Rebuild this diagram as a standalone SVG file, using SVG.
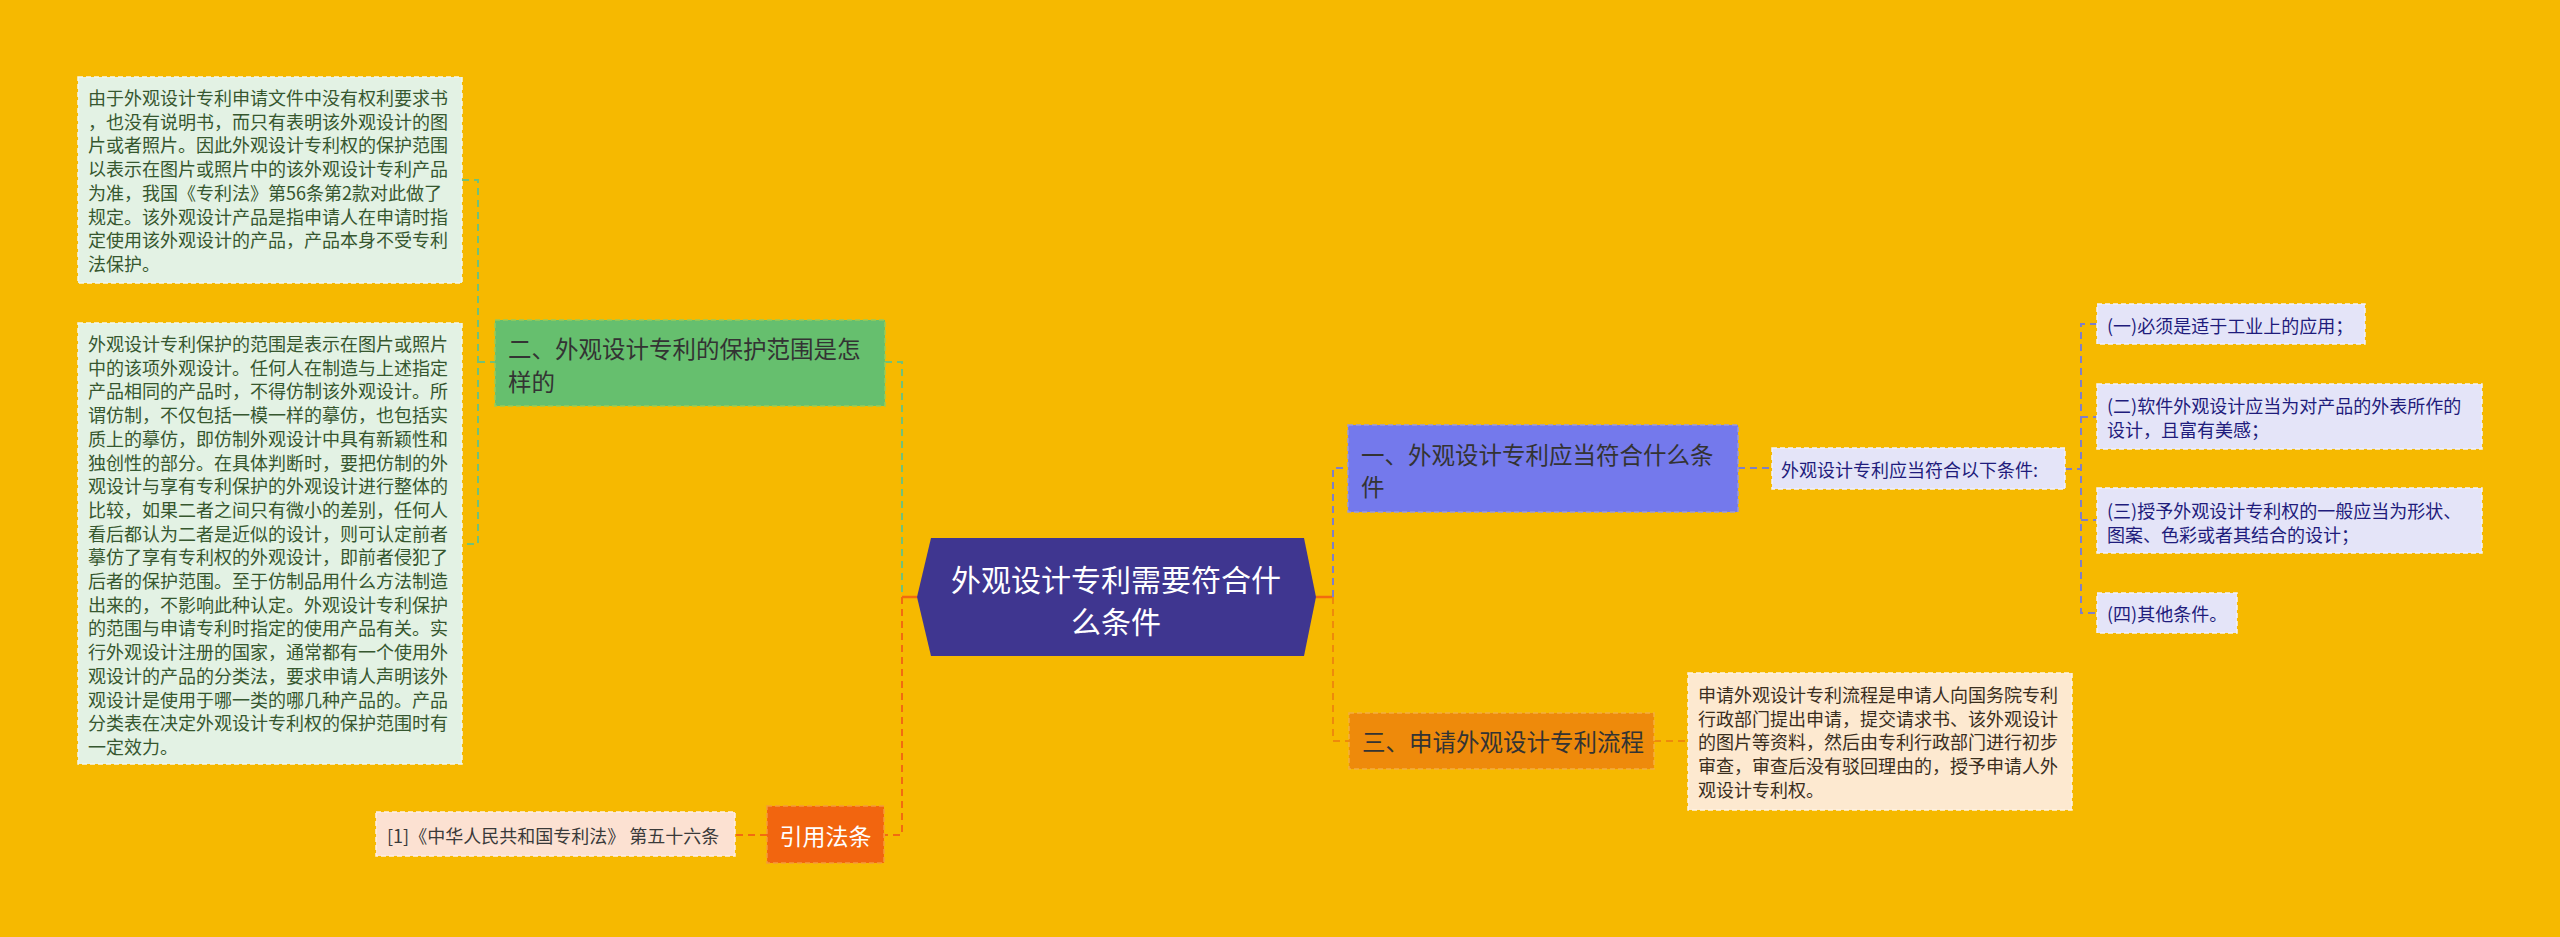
<svg xmlns="http://www.w3.org/2000/svg" width="2560" height="937" viewBox="0 0 2560 937">
<style>
text{font-family:"Noto Sans CJK SC","Noto Sans",sans-serif;dominant-baseline:central}
.lf{font-size:18px}
.sec{font-size:23.5px;fill:#333333}
.dash{fill:none;stroke-width:2;stroke-dasharray:7 5}
.g{stroke:#72C178}
.o{stroke:#F26B10}
.o2{stroke:#EE8A0B}
.p{stroke:#7F7FC9}
.bd{stroke-width:1.5;stroke-dasharray:5 3}
</style>
<rect width="2560" height="937" fill="#F6B900"/>
<g id="connectors">
<path class="dash g" d="M462 180H478V544H462M478 362H495"/>
<path class="dash g" d="M885 362H902V597"/>
<path class="dash o" d="M902 597V835H885M767 835H735"/>
<path d="M902 597H917" stroke="#F26B10" stroke-width="2.5"/>
<path d="M1316 597H1333" stroke="#F26B10" stroke-width="2.5"/>
<path class="dash p" d="M1333 597V468H1348M1738 468H1772"/>
<path class="dash o2" d="M1333 597V741H1349M1654 741H1688"/>
<path class="dash p" d="M2065 469H2081M2097 324H2081V613H2097M2081 417H2097M2081 520H2097"/>
</g>
<g id="central">
<polygon points="931,538 1304,538 1316,597 1304,656 931,656 917,597" fill="#3F3690"/>
<text x="1116" y="578" font-size="30" fill="#FFFFFF" text-anchor="middle">外观设计专利需要符合什</text>
<text x="1116" y="620" font-size="30" fill="#FFFFFF" text-anchor="middle">么条件</text>
</g>
<g id="leaf-left-1">
<rect x="78" y="77" width="384" height="206" fill="#E3F2E4" stroke="#F3F8EE" class="bd"/>
<g class="lf" fill="#36572F">
<text x="88" y="97">由于外观设计专利申请文件中没有权利要求书</text>
<text x="88" y="120.7">，也没有说明书，而只有表明该外观设计的图</text>
<text x="88" y="144.4">片或者照片。因此外观设计专利权的保护范围</text>
<text x="88" y="168.1">以表示在图片或照片中的该外观设计专利产品</text>
<text x="88" y="191.8">为准，我国《专利法》第56条第2款对此做了</text>
<text x="88" y="215.5">规定。该外观设计产品是指申请人在申请时指</text>
<text x="88" y="239.2">定使用该外观设计的产品，产品本身不受专利</text>
<text x="88" y="262.9">法保护。</text>
</g>
</g>
<g id="leaf-left-2">
<rect x="78" y="323" width="384" height="441" fill="#E3F2E4" stroke="#F3F8EE" class="bd"/>
<g class="lf" fill="#36572F">
<text x="88" y="343">外观设计专利保护的范围是表示在图片或照片</text>
<text x="88" y="366.7">中的该项外观设计。任何人在制造与上述指定</text>
<text x="88" y="390.4">产品相同的产品时，不得仿制该外观设计。所</text>
<text x="88" y="414.1">谓仿制，不仅包括一模一样的摹仿，也包括实</text>
<text x="88" y="437.8">质上的摹仿，即仿制外观设计中具有新颖性和</text>
<text x="88" y="461.5">独创性的部分。在具体判断时，要把仿制的外</text>
<text x="88" y="485.2">观设计与享有专利保护的外观设计进行整体的</text>
<text x="88" y="508.9">比较，如果二者之间只有微小的差别，任何人</text>
<text x="88" y="532.6">看后都认为二者是近似的设计，则可认定前者</text>
<text x="88" y="556.3">摹仿了享有专利权的外观设计，即前者侵犯了</text>
<text x="88" y="580">后者的保护范围。至于仿制品用什么方法制造</text>
<text x="88" y="603.7">出来的，不影响此种认定。外观设计专利保护</text>
<text x="88" y="627.4">的范围与申请专利时指定的使用产品有关。实</text>
<text x="88" y="651.1">行外观设计注册的国家，通常都有一个使用外</text>
<text x="88" y="674.8">观设计的产品的分类法，要求申请人声明该外</text>
<text x="88" y="698.5">观设计是使用于哪一类的哪几种产品的。产品</text>
<text x="88" y="722.2">分类表在决定外观设计专利权的保护范围时有</text>
<text x="88" y="745.9">一定效力。</text>
</g>
</g>
<g id="node-2">
<rect x="495" y="320" width="390" height="86" fill="#66BF6E" stroke="#9ACB55" class="bd"/>
<text class="sec" x="508" y="348">二、外观设计专利的保护范围是怎</text>
<text class="sec" x="508" y="381">样的</text>
</g>
<g id="node-cite">
<rect x="767" y="806" width="117" height="57" fill="#F2650F" stroke="#F59A3A" class="bd"/>
<text x="825.5" y="835" font-size="23" fill="#FFFFFF" text-anchor="middle">引用法条</text>
</g>
<g id="leaf-cite">
<rect x="376" y="812" width="359" height="44" fill="#FCE1D2" stroke="#FEF0E6" class="bd"/>
<text class="lf" x="387" y="835" fill="#3A3A3A">[1]《中华人民共和国专利法》 第五十六条</text>
</g>
<g id="node-1">
<rect x="1348" y="425" width="390" height="87" fill="#7479EC" stroke="#9A9ADA" class="bd"/>
<text class="sec" x="1361" y="454">一、外观设计专利应当符合什么条</text>
<text class="sec" x="1361" y="486">件</text>
</g>
<g id="leaf-1">
<rect x="1772" y="448" width="293" height="41" fill="#E4E4F8" stroke="#F2F2FC" class="bd"/>
<text class="lf" x="1781" y="469" fill="#1F1C7C">外观设计专利应当符合以下条件:</text>
</g>
<g id="leaf-1-1">
<rect x="2097" y="304" width="268" height="40" fill="#E4E4F8" stroke="#F2F2FC" class="bd"/>
<text class="lf" x="2107" y="325" fill="#1F1C7C">(一)必须是适于工业上的应用；</text>
</g>
<g id="leaf-1-2">
<rect x="2097" y="384" width="385" height="65" fill="#E4E4F8" stroke="#F2F2FC" class="bd"/>
<text class="lf" x="2107" y="405" fill="#1F1C7C">(二)软件外观设计应当为对产品的外表所作的</text>
<text class="lf" x="2107" y="429" fill="#1F1C7C">设计，且富有美感；</text>
</g>
<g id="leaf-1-3">
<rect x="2097" y="488" width="385" height="65" fill="#E4E4F8" stroke="#F2F2FC" class="bd"/>
<text class="lf" x="2107" y="510" fill="#1F1C7C">(三)授予外观设计专利权的一般应当为形状、</text>
<text class="lf" x="2107" y="534" fill="#1F1C7C">图案、色彩或者其结合的设计；</text>
</g>
<g id="leaf-1-4">
<rect x="2097" y="593" width="140" height="40" fill="#E4E4F8" stroke="#F2F2FC" class="bd"/>
<text class="lf" x="2107" y="613" fill="#1F1C7C">(四)其他条件。</text>
</g>
<g id="node-3">
<rect x="1349" y="713" width="305" height="56" fill="#EE8A0B" stroke="#F4AE40" class="bd"/>
<text class="sec" x="1362" y="741">三、申请外观设计专利流程</text>
</g>
<g id="leaf-3">
<rect x="1688" y="673" width="384" height="137" fill="#FDE9D0" stroke="#FEF4E6" class="bd"/>
<g class="lf" fill="#3A2E1E">
<text x="1698" y="694">申请外观设计专利流程是申请人向国务院专利</text>
<text x="1698" y="717.7">行政部门提出申请，提交请求书、该外观设计</text>
<text x="1698" y="741.4">的图片等资料，然后由专利行政部门进行初步</text>
<text x="1698" y="765.1">审查，审查后没有驳回理由的，授予申请人外</text>
<text x="1698" y="788.8">观设计专利权。</text>
</g>
</g>
</svg>
